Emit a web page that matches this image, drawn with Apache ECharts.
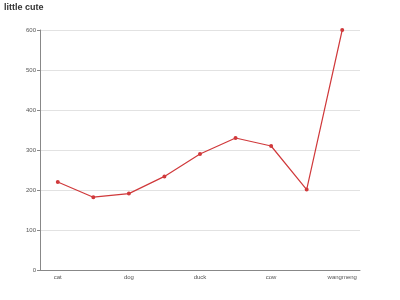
<!DOCTYPE html>
<html>
<head>
<meta charset="utf-8">
<script src="https://cdn.jsdelivr.net/npm/echarts@6/dist/echarts.min.js"></script>
<style>html,body{margin:0;padding:0;background:#fff}#c{width:400px;height:300px}</style>
</head>
<body>
<div id="c"></div>
<script>
var categories = ['cat', '', 'dog', '', 'duck', '', 'cow', '', 'wangmeng'];
var values = [220, 182, 191, 234, 290, 330, 310, 201, 600];
var yTicks = [0, 100, 200, 300, 400, 500, 600];

var chart = echarts.init(document.getElementById('c'), null, {renderer: 'canvas'});
chart.setOption({
  animation: false,
  title: {
    text: 'little cute',
    left: 4, top: 3, padding: 0,
    textStyle: {fontSize: 9, fontWeight: 'bold', color: '#333', fontFamily: 'Liberation Sans, Arial, sans-serif'}
  },
  grid: {left: 40, right: 40, top: 30, bottom: 30, containLabel: false},
  xAxis: {
    type: 'category',
    data: categories,
    boundaryGap: true,
    axisLine: {lineStyle: {color: '#888', width: 1}},
    axisTick: {alignWithLabel: true, length: 3, interval: function (i) { return i % 2 === 1; }, lineStyle: {color: '#888'}},
    axisLabel: {interval: 0, fontSize: 6, color: '#555', margin: 4, fontFamily: 'Liberation Sans, Arial, sans-serif'},
    splitLine: {show: false}
  },
  yAxis: {
    type: 'value',
    min: yTicks[0],
    max: yTicks[yTicks.length - 1],
    interval: 100,
    axisLine: {show: true, lineStyle: {color: '#888', width: 1}},
    axisTick: {show: true, length: 3, lineStyle: {color: '#888'}},
    axisLabel: {fontSize: 6, color: '#555', margin: 4, fontFamily: 'Liberation Sans, Arial, sans-serif'},
    splitLine: {lineStyle: {color: '#e2e2e2', width: 1}}
  },
  series: [{
    type: 'line',
    data: values,
    symbol: 'emptyCircle',
    symbolSize: 2,
    itemStyle: {color: '#d0393b', borderWidth: 0.6},
    lineStyle: {color: '#d0393b', width: 1.2}
  }]
});
</script>
</body>
</html>
